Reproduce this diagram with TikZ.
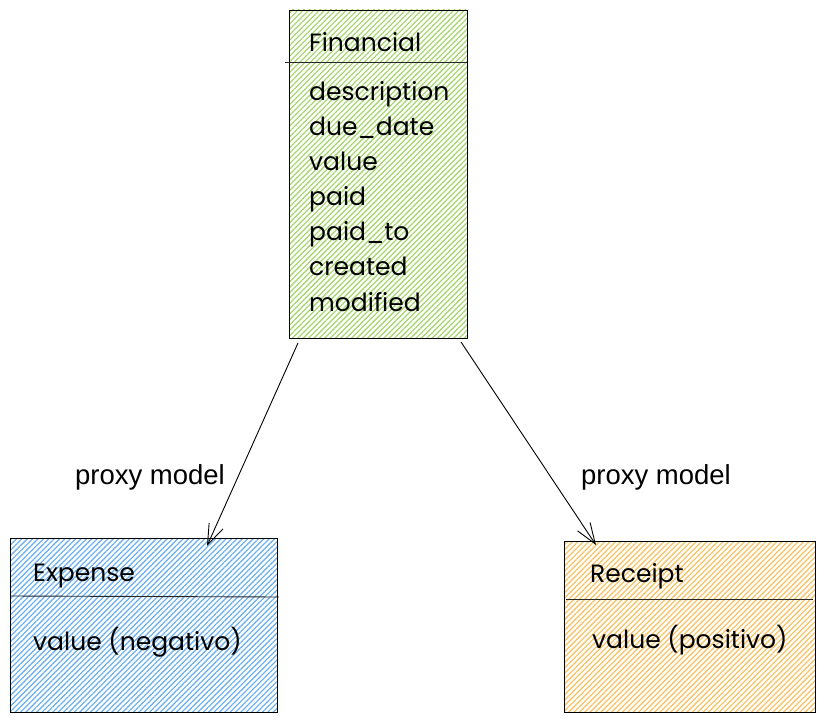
\documentclass[tikz,border=0pt]{standalone}
\usepackage{fontspec}
\setmainfont{Poppins}
\newfontfamily\labelfont{Liberation Sans}
\usetikzlibrary{patterns.meta,arrows.meta}
\definecolor{hgreen}{HTML}{A8D672}
\definecolor{hblue}{HTML}{72B2EC}
\definecolor{hyellow}{HTML}{F6C468}
\tikzset{
  cls/.style={draw=black, line width=0.9pt},
  hatch/.style={pattern={Lines[angle=45,distance=3.8pt,line width=1.3pt]}, pattern color=#1},
  sep/.style={draw=black!85, line width=0.9pt},
  txt/.style={anchor=base west, inner sep=0pt, font=\fontsize{25}{28}\selectfont},
  lbl/.style={anchor=base, inner sep=0pt, font=\labelfont\fontsize{27.5}{30}\selectfont},
  conn/.style={draw=black, line width=0.9pt, -{Straight Barb[angle=40:22pt, line width=0.9pt]}},
}
\begin{document}
\begin{tikzpicture}[x=1pt,y=-1pt]
\useasboundingbox (0,0) rectangle (825,722);
% Financial
\path[hatch=hgreen] (289,10) rectangle (467,338);
\draw[cls] (289,10) rectangle (467,338);
\draw[sep] (285,62) -- (467,62);
\node[txt] (fin) at (309,52) {Financial};
\node[txt] (a1) at (309,101) {description};
\node[txt] (a2) at (309,136) {due\_date};
\node[txt] (a3) at (309,171) {value};
\node[txt] (a4) at (309,206) {paid};
\node[txt] (a5) at (309,241) {paid\_to};
\node[txt] (a6) at (309,276) {created};
\node[txt] (a7) at (309,311) {modified};
\coordinate (finL) at (298,343);
\coordinate (finR) at (461,342);
% Expense
\path[hatch=hblue] (10,538) rectangle (277,712);
\draw[cls] (10,538) rectangle (277,712);
\draw[sep] (10,596) -- (279,597);
\node[txt] (exp) at (33,581) {Expense};
\node[txt] (expv) at (33,650) {value (negativo)};
\coordinate (expT) at (207,546);
% Receipt
\path[hatch=hyellow] (564,541) rectangle (815,712);
\draw[cls] (564,541) rectangle (815,712);
\draw[sep] (566,599) -- (813,599);
\node[txt] (rec) at (590,582) {Receipt};
\node[txt] (recv) at (592,648) {value (positivo)};
\coordinate (recT) at (596,545);
% connectors
\draw[conn] (finL) -- (expT);
\draw[conn] (finR) -- (recT);
\node[lbl] (l1) at (150,484) {proxy model};
\node[lbl] (l2) at (656,484) {proxy model};
\end{tikzpicture}
\end{document}
